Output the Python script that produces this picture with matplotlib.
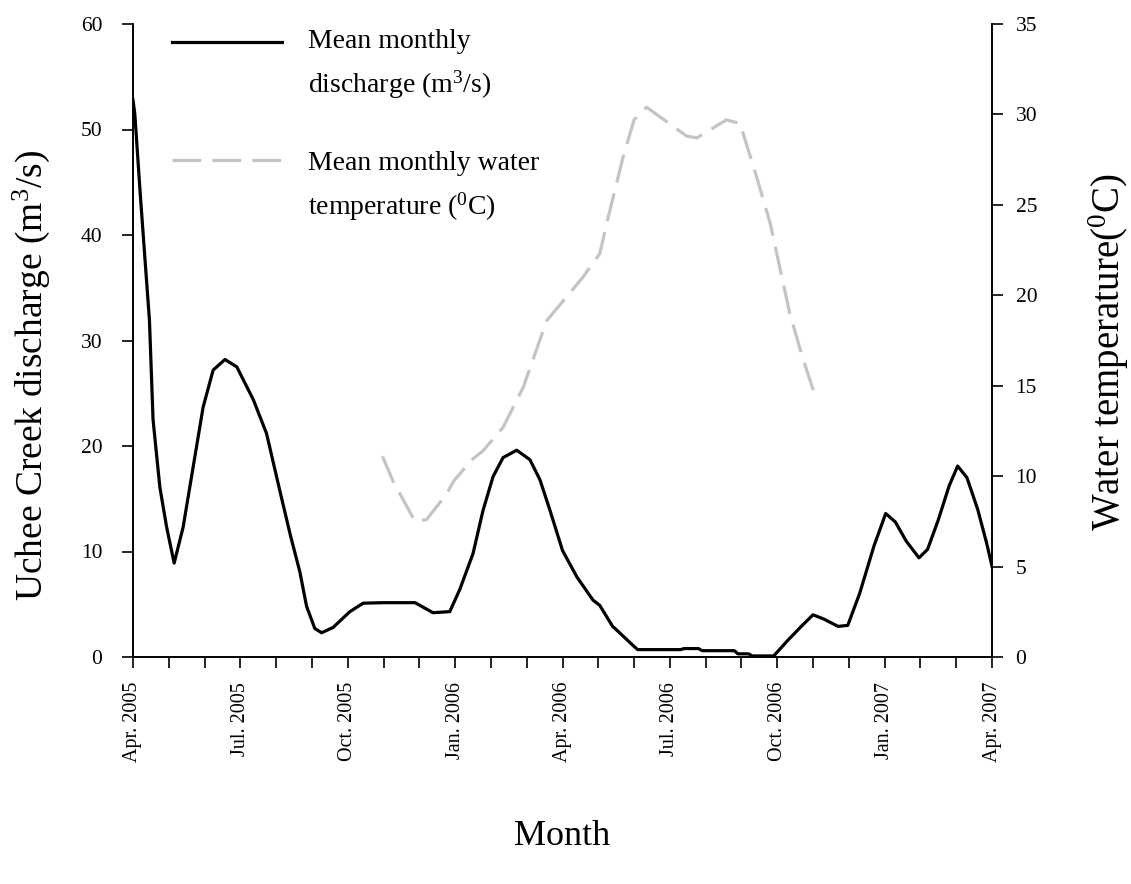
import matplotlib
matplotlib.use("Agg")
import matplotlib.pyplot as plt
from matplotlib.lines import Line2D

plt.rcParams['font.family'] = ['Liberation Serif', 'DejaVu Serif']
plt.rcParams['mathtext.fontset'] = 'custom'
plt.rcParams['mathtext.rm'] = 'Liberation Serif'
plt.rcParams['mathtext.it'] = 'Liberation Serif'

# months since Apr. 2005
q_month = [0.0, 0.05, 0.2, 0.35, 0.46, 0.56, 0.75, 0.94, 1.15, 1.4, 1.68, 1.96, 2.24,
           2.57, 2.9, 3.36, 3.73, 4.1, 4.4, 4.66, 4.85, 5.08, 5.27, 5.59, 6.06, 6.43,
           7.0, 7.88, 8.38, 8.85, 9.13, 9.5, 9.78, 10.06, 10.34, 10.72, 11.09, 11.37,
           11.65, 12.0, 12.4, 12.85, 13.04, 13.4, 13.5, 14.0, 14.1, 15.3, 15.4, 15.8,
           15.9, 16.8, 16.9, 17.2, 17.3, 17.9, 18.3, 18.7, 19.0, 19.3, 19.7, 19.97,
           20.3, 20.7, 21.03, 21.3, 21.6, 21.96, 22.2, 22.5, 22.8, 23.04, 23.3, 23.6,
           23.85, 24.0]
discharge = [52.8, 51.5, 44.0, 37.0, 31.9, 22.5, 16.1, 12.3, 8.9, 12.3, 18.0, 23.7, 27.2,
             28.2, 27.5, 24.4, 21.2, 15.8, 11.5, 8.1, 4.8, 2.7, 2.3, 2.8, 4.3, 5.1,
             5.15, 5.15, 4.2, 4.3, 6.4, 9.8, 13.9, 17.1, 18.9, 19.6, 18.7, 16.8,
             13.9, 10.1, 7.6, 5.4, 4.9, 2.9, 2.6, 1.0, 0.7, 0.7, 0.8, 0.8,
             0.6, 0.6, 0.3, 0.3, 0.1, 0.1, 1.6, 3.0, 4.0, 3.6, 2.9, 3.0,
             6.0, 10.5, 13.6, 12.8, 11.0, 9.4, 10.2, 13.0, 16.2, 18.1, 17.0, 14.0,
             10.8, 8.6]

t_month = [6.97, 7.27, 7.88, 8.2, 8.76, 8.95, 9.46, 9.78, 10.34, 10.9, 11.56, 12.57,
           13.04, 13.3, 13.7, 14.0, 14.35, 14.7, 15.47, 15.75, 16.58, 16.96, 17.4,
           17.8, 18.35, 18.7, 19.05]
temperature = [11.1, 9.7, 7.5, 7.6, 9.0, 9.7, 10.9, 11.4, 12.7, 14.9, 18.6, 21.0,
               22.3, 24.5, 27.7, 29.7, 30.4, 29.9, 28.8, 28.7, 29.7, 29.5, 26.7,
               24.0, 19.0, 16.6, 14.5]

tick_months = list(range(0, 25))
label_months = [0, 3, 6, 9, 12, 15, 18, 21, 24]
tick_labels = ["Apr. 2005", "Jul. 2005", "Oct. 2005", "Jan. 2006", "Apr. 2006",
               "Jul. 2006", "Oct. 2006", "Jan. 2007", "Apr. 2007"]

W, H = 1131, 884
fig = plt.figure(figsize=(W / 100, H / 100), dpi=100)
ax = fig.add_axes([133 / W, 1 - 657 / H, (992 - 133) / W, (657 - 24) / H])
ax2 = ax.twinx()

ax.plot(q_month, discharge, color='black', lw=2.3, solid_joinstyle='round', zorder=3)
ln, = ax2.plot(t_month, temperature, color='#c4c4c4', lw=2.3)
ln.set_dashes([9, 3.5])

ax.set_xlim(0, 24)
ax.set_ylim(0, 60)
ax2.set_ylim(0, 35)

ax.set_xticks(tick_months)
ax.set_xticklabels(['' if m not in label_months else tick_labels[label_months.index(m)]
                    for m in tick_months], rotation=90, fontsize=14.5)
ax.set_yticks(range(0, 61, 10))
ax2.set_yticks(range(0, 36, 5))
ax.tick_params(axis='y', labelsize=15.5, direction='out', length=8, width=1.2, pad=14)
ax.tick_params(axis='x', direction='out', length=8, width=1.2, pad=10)
ax2.tick_params(axis='y', labelsize=15.5, direction='out', length=8, width=1.2, pad=9)

for a in (ax, ax2):
    a.spines['top'].set_visible(False)
    for s in ('left', 'right', 'bottom'):
        a.spines[s].set_linewidth(1.2)

ax.set_ylabel("Uchee Creek discharge (m$^{3}$/s)", fontsize=27)
ax.yaxis.set_label_coords(-0.094, 0.445)
ax2.set_ylabel("Water temperature($^{0}$C)", fontsize=28, rotation=90)
ax2.yaxis.set_label_coords(1.11, 0.482)
ax.set_xlabel("Month", fontsize=26)
ax.xaxis.set_label_coords(0.5, -0.258)

# legend
ax.add_line(Line2D([0.0454, 0.1735], [0.9716, 0.9716], transform=ax.transAxes,
                   color='black', lw=2.3, clip_on=False))
lg = Line2D([0.0454, 0.183], [0.785, 0.785], transform=ax.transAxes,
            color='#c4c4c4', lw=2.3, clip_on=False)
lg.set_dashes([9, 3.5])
ax.add_line(lg)
fs = 20
ax.text(0.2037, 0.9716, "Mean monthly", transform=ax.transAxes, fontsize=fs, va='center')
ax.text(0.2037, 0.9036, "discharge (m$^{3}$/s)", transform=ax.transAxes, fontsize=fs, va='center')
ax.text(0.2037, 0.780, "Mean monthly water", transform=ax.transAxes, fontsize=fs, va='center')
ax.text(0.2037, 0.712, "temperature ($^{0}$C)", transform=ax.transAxes, fontsize=fs, va='center')

fig.savefig("out.png", dpi=100)
